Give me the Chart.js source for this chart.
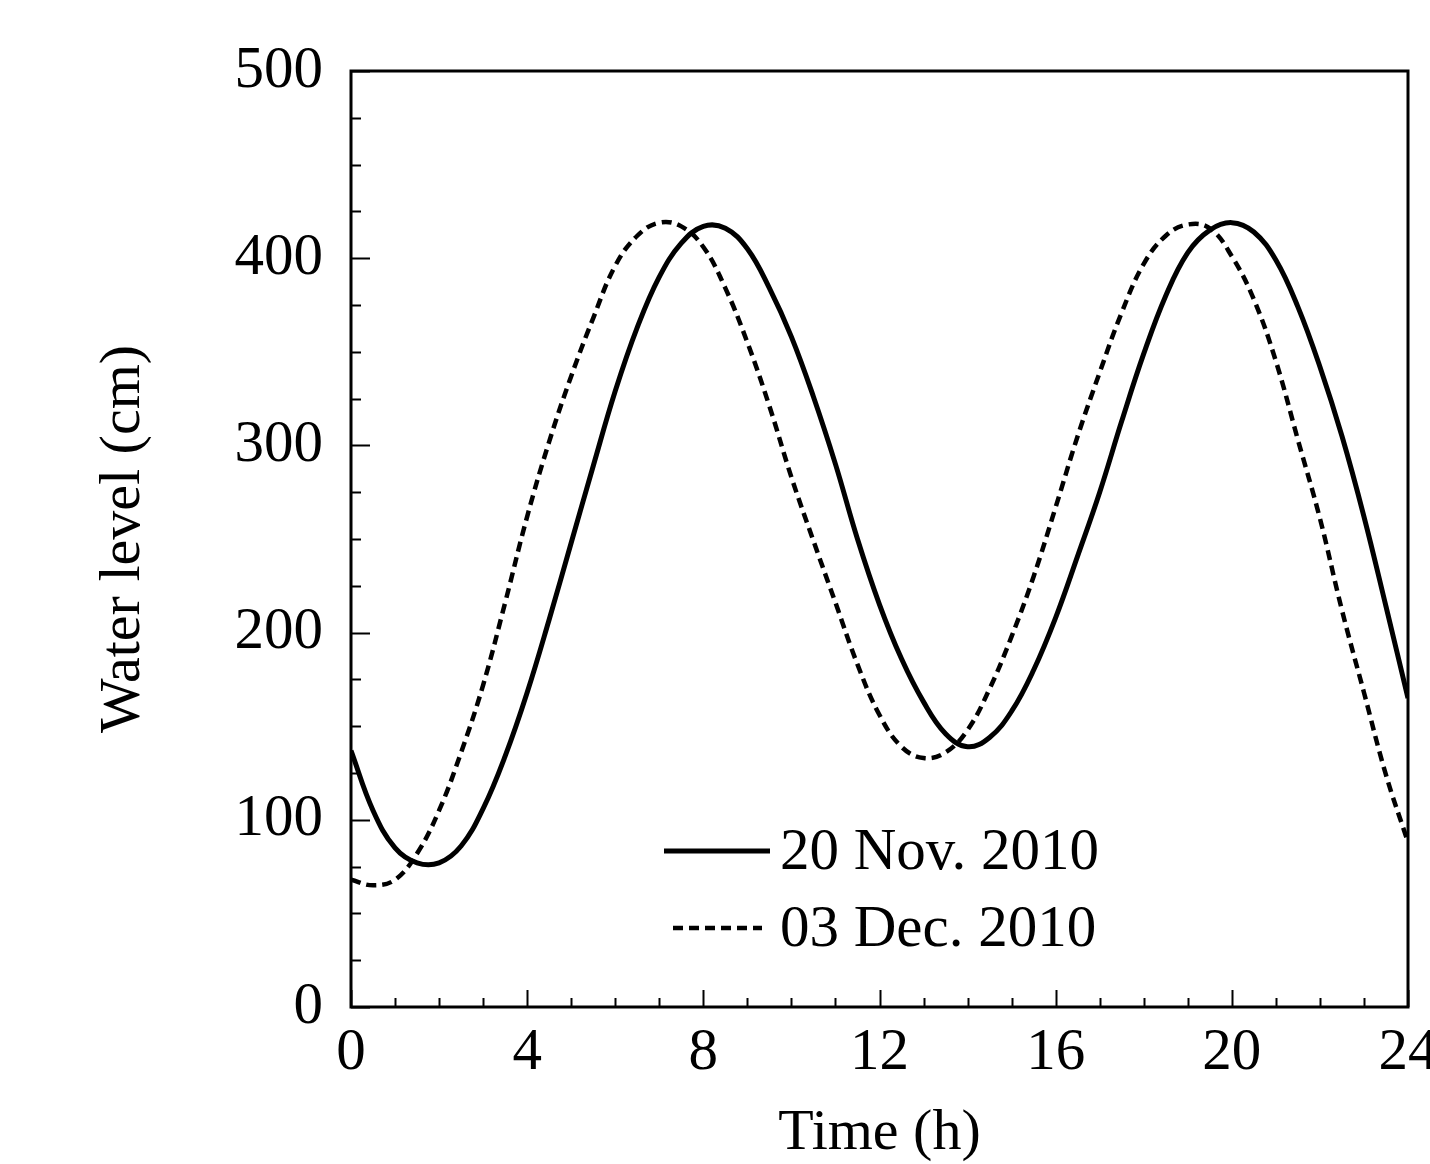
<!DOCTYPE html>
<html>
<head>
<meta charset="utf-8">
<script src="https://cdn.jsdelivr.net/npm/chart.js@4/dist/chart.umd.min.js"></script>
<style>
html, body { margin: 0; padding: 0; background: #fff; overflow: hidden; }
canvas { display: block; }
</style>
</head>
<body>
<canvas id="chart" width="1448" height="1164"></canvas>
<script>
// Time axis (h), sampled every half hour
var hours = [0, 0.5, 1, 1.5, 2, 2.5, 3, 3.5, 4, 4.5, 5, 5.5, 6, 6.5, 7, 7.5, 8, 8.5, 9, 9.5, 10, 10.5, 11, 11.5,
             12, 12.5, 13, 13.5, 14, 14.5, 15, 15.5, 16, 16.5, 17, 17.5, 18, 18.5, 19, 19.5, 20, 20.5, 21, 21.5,
             22, 22.5, 23, 23.5, 24];

// Water level (cm), 20 Nov. 2010 (solid)
var nov20 = [137, 105, 85, 77, 77, 86, 106, 134, 168, 207, 248, 289, 329, 363, 390, 408, 417, 416, 405, 384, 358, 326, 290, 250,
             215, 186, 163, 146, 139, 144, 158, 180, 208, 241, 275, 313, 349, 380, 403, 415, 419, 414, 399, 374,
             342, 305, 262, 214, 165];

// Water level (cm), 03 Dec. 2010 (dashed)
var dec03 = [68, 65, 68, 82, 105, 136, 172, 216, 262, 302, 337, 368, 396, 412, 419, 417, 406, 384, 355, 321, 283, 249, 216, 183,
             156, 139, 133, 136, 148, 170, 198, 230, 267, 305, 339, 371, 397, 412, 418, 416, 401, 378, 345, 303,
             261, 212, 168, 124, 88];

var seriesNames = ['20 Nov. 2010', '03 Dec. 2010'];
var xTickLabels = ['0', '4', '8', '12', '16', '20', '24'];
var yTickLabels = ['0', '100', '200', '300', '400', '500'];

var FONT = 'Liberation Serif, Times New Roman, serif';

function toPoints(ys){
	var pts = [];
	for (var i = 0; i < hours.length; i++) pts.push({ x: hours[i], y: ys[i] });
	return pts;
}

// frame, inward ticks and the legend
var framePlugin = {
	id: 'frame',
	afterDraw: function(chart){
		var ctx = chart.ctx, a = chart.chartArea, xs = chart.scales.x, ys = chart.scales.y;
		ctx.save();
		ctx.strokeStyle = '#000';
		ctx.lineWidth = 2;
		xs.ticks.forEach(function(t){
			var px = Math.round(xs.getPixelForValue(t.value)) + 0.5,
				len = (t.value % 4 === 0) ? 17 : 9;
			ctx.beginPath(); ctx.moveTo(px, a.bottom); ctx.lineTo(px, a.bottom - len); ctx.stroke();
		});
		ys.ticks.forEach(function(t){
			var py = Math.round(ys.getPixelForValue(t.value)) + 0.5,
				len = (t.value % 100 === 0) ? 19 : 10;
			ctx.beginPath(); ctx.moveTo(a.left, py); ctx.lineTo(a.left + len, py); ctx.stroke();
		});
		ctx.lineWidth = 3;
		ctx.strokeRect(a.left, a.top, a.right - a.left, a.bottom - a.top);

		// legend
		ctx.font = '59px ' + FONT;
		ctx.fillStyle = '#000';
		ctx.textBaseline = 'middle';
		ctx.textAlign = 'left';
		var rows = [ { x0: 664, x1: 770, y: 851 }, { x0: 673, x1: 762, y: 928 } ];
		chart.data.datasets.forEach(function(ds, i){
			var r = rows[i];
			ctx.lineWidth = ds.borderWidth;
			ctx.setLineDash(ds.borderDash || []);
			ctx.beginPath(); ctx.moveTo(r.x0, r.y); ctx.lineTo(r.x1, r.y); ctx.stroke();
			ctx.setLineDash([]);
			ctx.fillText(ds.label, 780, r.y + 2);
		});
		ctx.restore();
	}
};

new Chart(document.getElementById('chart').getContext('2d'), {
	type: 'line',
	data: {
		datasets: [
			{ label: seriesNames[0], data: toPoints(nov20), borderColor: '#000', borderWidth: 5,
			  pointRadius: 0, tension: 0.4, fill: false },
			{ label: seriesNames[1], data: toPoints(dec03), borderColor: '#000', borderWidth: 4.5,
			  borderDash: [10, 6], pointRadius: 0, tension: 0.4, fill: false }
		]
	},
	options: {
		responsive: false,
		animation: false,
		devicePixelRatio: 1,
		layout: { padding: { top: 71, right: 40, bottom: 0, left: 0 } },
		plugins: { legend: { display: false }, tooltip: { enabled: false } },
		scales: {
			x: {
				type: 'linear', min: 0, max: 24,
				grid: { display: false }, border: { display: false },
				ticks: {
					stepSize: 1, autoSkip: false, maxRotation: 0, padding: 3, color: '#000',
					font: { family: FONT, size: 59 },
					callback: function(v){ return xTickLabels.indexOf(String(v)) >= 0 ? String(v) : ''; }
				},
				title: { display: true, text: 'Time (h)', color: '#000',
					font: { family: FONT, size: 58, lineHeight: 1 }, padding: { top: 0, bottom: 1 } },
				afterFit: function(s){ s.height = 157; }
			},
			y: {
				min: 0, max: 500,
				grid: { display: false }, border: { display: false },
				ticks: {
					stepSize: 25, autoSkip: false, padding: 20, color: '#000',
					font: { family: FONT, size: 59 },
					callback: function(v){ return yTickLabels.indexOf(String(v)) >= 0 ? String(v) : ''; }
				},
				title: { display: true, text: 'Water level (cm)', color: '#000',
					font: { family: FONT, size: 58, lineHeight: 1 }, padding: { top: 95, bottom: 0 } },
				afterFit: function(s){ s.width = 351; }
			}
		}
	},
	plugins: [framePlugin]
});
</script>
</body>
</html>
